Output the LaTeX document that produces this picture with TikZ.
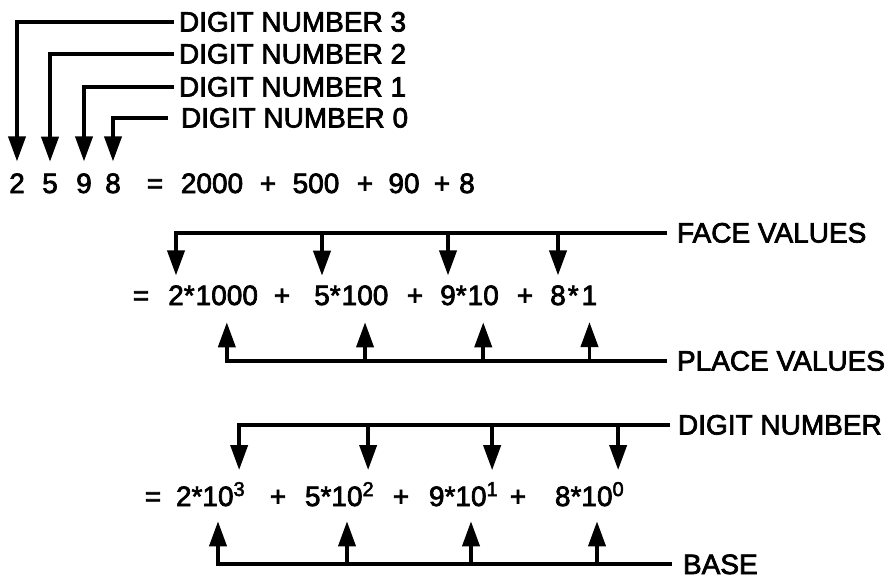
\documentclass[tikz,border=0pt]{standalone}
\usepackage{fontspec}
\setmainfont{Liberation Sans}[FakeBold=2.5]
\usetikzlibrary{arrows.meta,calc}
\begin{document}
\begin{tikzpicture}[x=1pt,y=-1pt,
  every node/.style={inner sep=0pt, outer sep=0pt, font=\fontsize{28}{28}\selectfont},
  ln/.style={line width=3.8pt, line join=miter, line cap=butt},
  arr/.style={ln, -{Triangle[length=25pt,width=17pt]}},
  lab/.style={anchor=base west},
  tok/.style={anchor=base},
  nxt/.style={anchor=base west},
  expo/.style={anchor=base west, font=\fontsize{20}{20}\selectfont, yshift=10pt}]
\useasboundingbox (0,0) rectangle (891,579);

% ---------- top: digit numbers ----------
\node[lab] (l3) at (179,31.5) {DIGIT NUMBER 3};
\node[lab] (l2) at (179,63.5) {DIGIT NUMBER 2};
\node[lab] (l1) at (179,96.5) {DIGIT NUMBER 1};
\node[lab] (l0) at (181,127.5) {DIGIT NUMBER 0};

\node[tok] (d3) at (17,193) {2};
\node[tok] (d2) at (50,193) {5};
\node[tok] (d1) at (84,193) {9};
\node[tok] (d0) at (113,193) {8};

\draw[arr] ([xshift=-5pt]l3.west) -| ([yshift=12pt]d3.north);
\draw[arr] ([xshift=-5pt]l2.west) -| ([yshift=12pt]d2.north);
\draw[arr] ([xshift=-5pt]l1.west) -| ([yshift=12pt]d1.north);
\draw[arr] ([xshift=-13pt]l0.west) -| ([yshift=12pt]d0.north);

\node[tok] (q1) at (155,193) {=};
\node[tok] (t1a) at (212,193) {2000};
\node[tok] (t1p1) at (268,193) {+};
\node[tok] (t1b) at (316,193) {500};
\node[tok] (t1p2) at (365,193) {+};
\node[tok] (t1c) at (404,193) {90};
\node[tok] (t1p3) at (442,193) {+};
\node[tok] (t1d) at (467,193) {8};

% ---------- middle: face and place values ----------
\node[lab] (fvl) at (677,242.5) {FACE VALUES};
\node[lab] (pvl) at (677,370.5) {PLACE VALUES};

\node[tok] (q2) at (141,305) {=};
\node[tok] (fa) at (176,305) {2};
\node[nxt] (sa) at (fa.base east) {*};
\node[nxt] (pa) at ([xshift=1pt]sa.base east) {1000};
\node[tok] (fb) at (322,305) {5};
\node[nxt] (sb) at (fb.base east) {*};
\node[nxt] (pb) at ([xshift=1pt]sb.base east) {100};
\node[tok] (fc) at (448,305) {9};
\node[nxt] (sc) at (fc.base east) {*};
\node[nxt] (pc) at ([xshift=1pt]sc.base east) {10};
\node[tok] (fd) at (558,305) {8};
\node[nxt] (sd) at ([xshift=2pt]fd.base east) {*};
\node[nxt] (pd) at ([xshift=3pt]sd.base east) {1};
\node[tok] (m1) at (282,305) {+};
\node[tok] (m2) at (415,305) {+};
\node[tok] (m3) at (525,305) {+};

\draw[arr] ([xshift=-10pt]fvl.west) -| ([yshift=10pt]fa.north);
\foreach \n in {fb,fc,fd}
  \draw[arr] (\n.north |- fvl.west) -- ([yshift=10pt]\n.north);
\draw[arr] ([xshift=-10pt]pvl.west) -| ([yshift=-17pt]pa.south);
\foreach \n in {pb,pc,pd}
  \draw[arr] (\n.south |- pvl.west) -- ([yshift=-17pt]\n.south);

% ---------- bottom: digit number and base ----------
\node[lab] (dnl) at (678,434.5) {DIGIT NUMBER};
\node[lab] (bsl) at (683,574) {BASE};

\node[tok] (q3) at (153,506) {=};
\node[tok] (ba) at (218,506) {10};
\node[anchor=base east] (sta) at (ba.base west) {*};
\node[anchor=base east] (ga) at (sta.base west) {2};
\node[expo] (ea) at (ba.base east) {3};
\node[tok] (bb) at (347,506) {10};
\node[anchor=base east] (stb) at (bb.base west) {*};
\node[anchor=base east] (gb) at (stb.base west) {5};
\node[expo] (eb) at (bb.base east) {2};
\node[tok] (bc) at (471,506) {10};
\node[anchor=base east] (stc) at (bc.base west) {*};
\node[anchor=base east] (gc) at (stc.base west) {9};
\node[expo] (ec) at (bc.base east) {1};
\node[tok] (bd) at (597,506) {10};
\node[anchor=base east] (std) at (bd.base west) {*};
\node[anchor=base east] (gd) at (std.base west) {8};
\node[expo] (ed) at (bd.base east) {0};
\node[tok] (n1) at (278,506) {+};
\node[tok] (n2) at (401,506) {+};
\node[tok] (n3) at (518,506) {+};

\draw[arr] ([xshift=-8pt]dnl.west) -| ([yshift=12pt]ea.north);
\foreach \n in {eb,ec,ed}
  \draw[arr] (\n.north |- dnl.west) -- ([yshift=12pt]\n.north);
\draw[arr] ([xshift=-11pt]bsl.west) -| ([yshift=-15pt]ba.south);
\foreach \n in {bb,bc,bd}
  \draw[arr] (\n.south |- bsl.west) -- ([yshift=-15pt]\n.south);
\end{tikzpicture}
\end{document}
